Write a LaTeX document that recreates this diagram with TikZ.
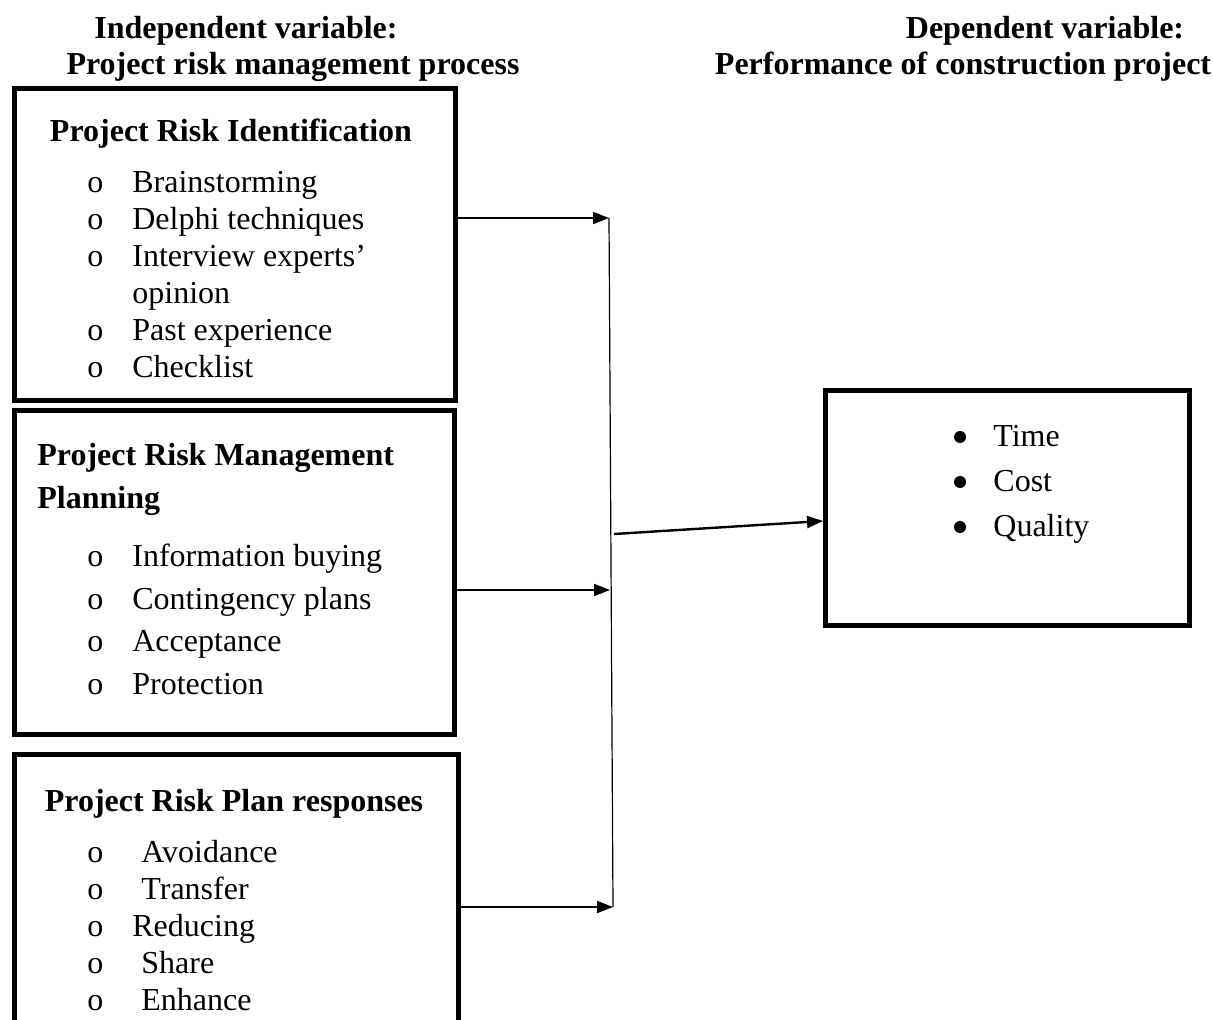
\documentclass[tikz,border=0pt]{standalone}
\usepackage{fontspec}
\setmainfont{Liberation Serif}
\usetikzlibrary{arrows.meta}

\newcommand{\riskitem}[2][0pt]{\makebox[22.5pt][l]{o}\hspace{#1}#2}

\begin{document}
\begin{tikzpicture}[
        x=0.5pt, y=-0.5pt,
        font=\fontsize{16}{19}\selectfont,
        riskbox/.style={draw, line width=2.5pt, anchor=north west, inner sep=0pt},
        head/.style={font=\fontsize{16}{19}\selectfont\bfseries, inner sep=0pt},
        item/.style={anchor=base west, inner sep=0pt},
        link/.style={-{Triangle[length=8pt, width=6pt]}, line width=0.9pt}
    ]
    \useasboundingbox (0,0) rectangle (1213,1020);

    % headings
    \node[head, anchor=base] (indep) at (246,39) {Independent variable:};
    \node[head, anchor=base] (indepsub) at (293,75) {Project risk management process};
    \node[head, anchor=base] (dep) at (1045,39) {Dependent variable:};
    \node[head, anchor=base] (depsub) at (963,75) {Performance of construction project};

    % boxes
    \node[riskbox, minimum width=220.5pt, minimum height=156pt] (ident) at (12,86) {};
    \node[riskbox, minimum width=220pt, minimum height=162pt] (plan) at (12,408) {};
    \node[riskbox, minimum width=222pt, minimum height=160pt] (resp) at (12,752) {};
    \node[riskbox, minimum width=182pt, minimum height=117.5pt] (perf) at (823,388) {};

    % risk identification
    \node[head, anchor=base] (identtitle) at (231,142) {Project Risk Identification};
    \node[item] (i1) at (87,193) {\riskitem{Brainstorming}};
    \node[item] (i2) at (87,230) {\riskitem{Delphi techniques}};
    \node[item] (i3) at (87,267) {\riskitem{Interview experts’}};
    \node[item] (i4) at (132,304) {opinion};
    \node[item] (i5) at (87,341) {\riskitem{Past experience}};
    \node[item] (i6) at (87,378) {\riskitem{Checklist}};

    % risk management planning
    \node[head, anchor=base west] (plantitle) at (37,466) {Project Risk Management};
    \node[head, anchor=base west] (plantitle2) at (37,509) {Planning};
    \node[item] (p1) at (87,566) {\riskitem{Information buying}};
    \node[item] (p2) at (87,609) {\riskitem{Contingency plans}};
    \node[item] (p3) at (87,651) {\riskitem{Acceptance}};
    \node[item] (p4) at (87,694) {\riskitem{Protection}};

    % risk plan responses
    \node[head, anchor=base] (resptitle) at (234,811) {Project Risk Plan responses};
    \node[item] (r1) at (87,862) {\riskitem[4.5pt]{Avoidance}};
    \node[item] (r2) at (87,899) {\riskitem[4.5pt]{Transfer}};
    \node[item] (r3) at (87,936) {\riskitem{Reducing}};
    \node[item] (r4) at (87,973) {\riskitem[4.5pt]{Share}};
    \node[item] (r5) at (87,1010) {\riskitem[4.5pt]{Enhance}};

    % performance
    \node[item] (f1) at (993,447) {Time};
    \node[item] (f2) at (993,492) {Cost};
    \node[item] (f3) at (993,537) {Quality};
    \fill ([xshift=-16.5pt, yshift=5pt]f1.base west) circle (3pt);
    \fill ([xshift=-16.5pt, yshift=5pt]f2.base west) circle (3pt);
    \fill ([xshift=-16.5pt, yshift=5pt]f3.base west) circle (3pt);

    % connectors
    \coordinate (j1) at (609,218);
    \coordinate (j2) at (610,590);
    \coordinate (j3) at (613,907);
    \coordinate (mid) at (614,534);
    \coordinate (tip) at (820,521);

    \draw[link] (ident.east |- j1) -- (j1);
    \draw[link] (plan.east |- j2) -- (j2);
    \draw[link] (resp.east |- j3) -- (j3);
    \draw[line width=0.6pt] (j1) -- (j3);
    \draw[link, line width=1.2pt] (mid) -- (perf.west |- tip);

\end{tikzpicture}
\end{document}
